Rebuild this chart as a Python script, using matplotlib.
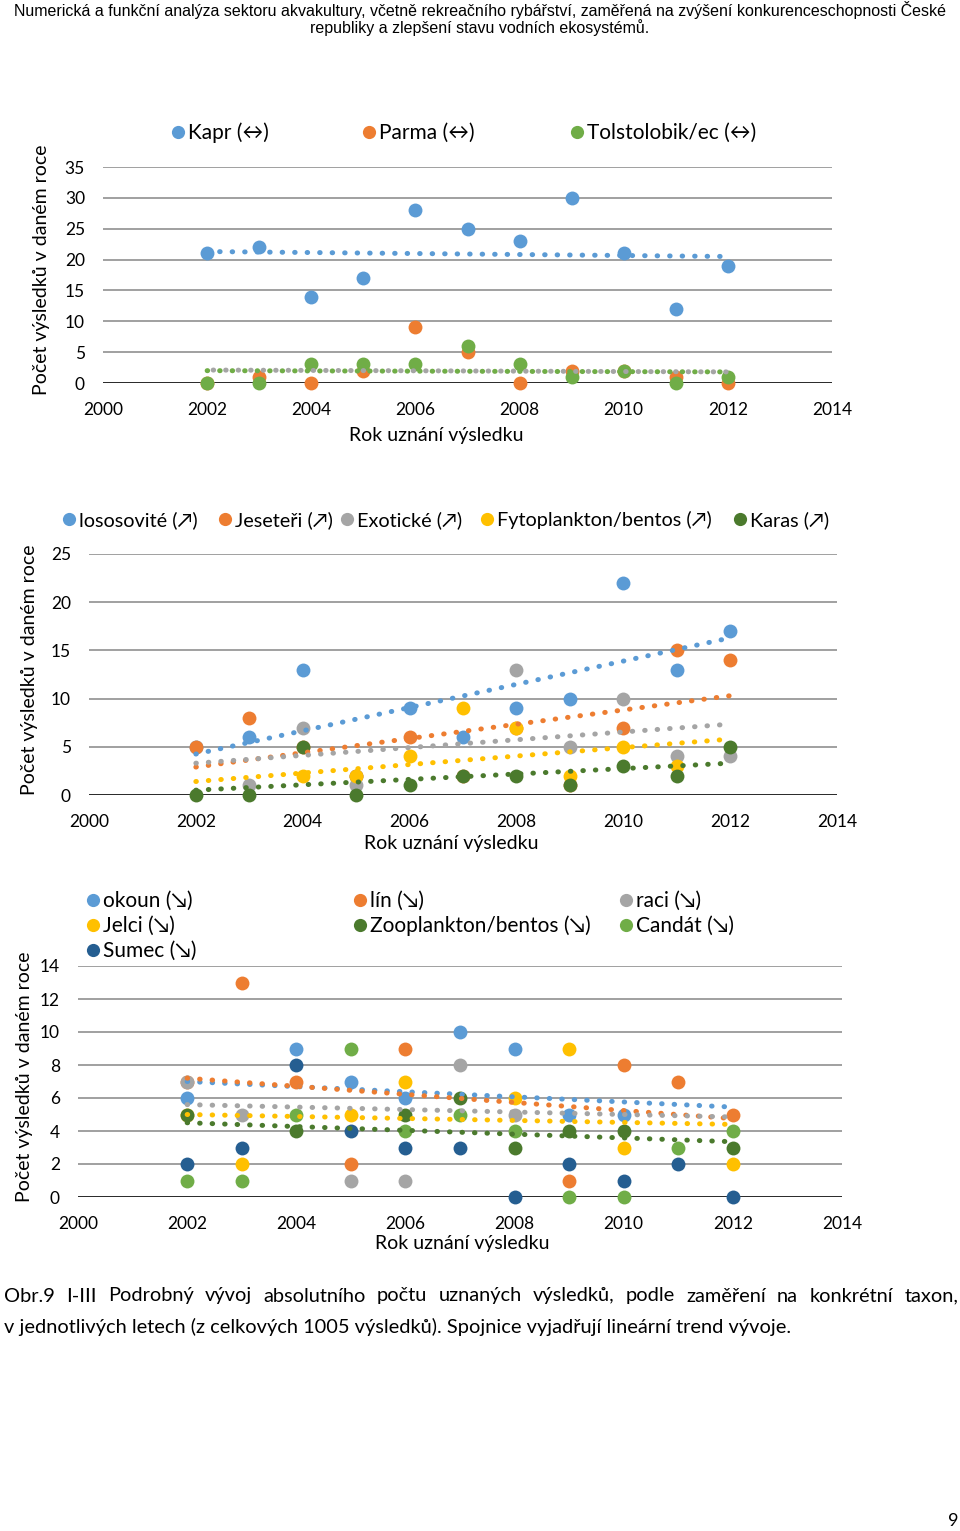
import numpy as np
import matplotlib
matplotlib.use("Agg")
import matplotlib.pyplot as plt
from matplotlib.lines import Line2D

plt.rcParams['font.family'] = ['Lato', 'DejaVu Sans']

nan = np.nan
years = [2002, 2003, 2004, 2005, 2006, 2007, 2008, 2009, 2010, 2011, 2012]
trend_years = [2002, 2012]

# I - stable taxa
kapr = [21, 22, 14, 17, 28, 25, 23, 30, 21, 12, 19]
parma = [0, 1, 0, 2, 9, 5, 0, 2, 2, 1, 0]
tolstolobik = [0, 0, 3, 3, 3, 6, 3, 1, 2, 0, 1]
trend_kapr = [21.3, 20.5]
trend_parma = [2.1, 1.8]
trend_tolstolobik = [2.0, 1.8]

# II - rising taxa
lososovite = [5, 6, 13, 2, 9, 6, 9, 10, 22, 13, 17]
jeseteri = [5, 8, 5, 2, 6, 2, 7, 1, 7, 15, 14]
exoticke = [nan, 1, 7, 1, nan, nan, 13, 5, 10, 4, 4]
fytoplankton = [nan, nan, 2, 2, 4, 9, 7, 2, 5, 3, nan]
karas = [0, 0, 5, 0, 1, 2, 2, 1, 3, 2, 5]
trend_lososovite = [4.25, 16.3]
trend_jeseteri = [2.9, 10.3]
trend_exoticke = [3.3, 7.35]
trend_fytoplankton = [1.4, 5.8]
trend_karas = [0.5, 3.3]

# III - declining taxa
okoun = [6, nan, 9, 7, 6, 10, 9, 5, 5, nan, nan]
lin = [7, 13, 7, 2, 9, nan, nan, 1, 8, 7, 5]
raci = [7, 5, nan, 1, 1, 8, 5, nan, nan, nan, nan]
jelci = [5, 2, nan, 5, 7, nan, 6, 9, 3, nan, 2]
zooplankton = [5, nan, 4, nan, 5, 6, 3, 4, 4, nan, 3]
candat = [1, 1, 5, 9, 4, 5, 4, 0, 0, 3, 4]
sumec = [2, 3, 8, 4, 3, 3, 0, 2, 1, 2, 0]
trend_okoun = [7.0, 5.45]
trend_lin = [7.2, 4.75]
trend_raci = [5.6, 4.85]
trend_jelci = [5.0, 4.4]
trend_zooplankton = [4.5, 3.35]

BLUE = '#5B9BD5'
ORANGE = '#ED7D31'
GRAY = '#A5A5A5'
YELLOW = '#FFC000'
GREEN = '#70AD47'
DKGREEN = '#4B7A2D'
DKBLUE = '#255E91'

W, H = 960, 1531
fig = plt.figure(figsize=(W / 100, H / 100), dpi=100)


def px(x, y):
    return x / W, 1 - y / H


def make_axes(left, right, top, bottom, ymax, ystep, xlabel_y, xlabel_x, ylabel_x):
    l, t = px(left, top)
    r, b = px(right, bottom)
    ax = fig.add_axes([l, b, r - l, t - b])
    ax.set_xlim(2000, 2014)
    ax.set_ylim(0, ymax)
    ax.set_xticks(range(2000, 2015, 2))
    ax.set_yticks(np.arange(0, ymax + 0.1, ystep))
    for s in ax.spines.values():
        s.set_visible(False)
    for yv in np.arange(ystep, ymax + 0.1, ystep):
        ax.axhline(yv, color='#A0A0A0', lw=1.4, zorder=0)
    ax.axhline(0, color='black', lw=1.9, zorder=1)
    ax.tick_params(length=0, labelsize=12.5, colors='black')
    ax.tick_params(axis='y', pad=13)
    ax.tick_params(axis='x', pad=14)
    fig.text(*px(xlabel_x, xlabel_y), 'Rok uznání výsledku', ha='center', va='center', fontsize=14)
    fig.text(*px(ylabel_x, (top + bottom) / 2 - 5), 'Počet výsledků v daném roce', ha='center', va='center',
             rotation=90, fontsize=14)
    return ax


def points(ax, vals, color, z):
    ax.scatter(years, vals, s=100, color=color, zorder=z, clip_on=False, linewidths=0)


def trend(ax, vals, color, offset=0):
    ax.plot(trend_years, vals, color=color, lw=3.6, linestyle=(offset, (0.1, 2.4)),
            dash_capstyle='round', zorder=10)


def legend_items(items, size=15):
    for x, y, color, label in items:
        fig.add_artist(Line2D([x / W], [1 - y / H], marker='o', markersize=9.5, color=color,
                              markeredgewidth=0, transform=fig.transFigure))
        fig.text(*px(x + 10, y + 1), label, ha='left', va='center', fontsize=size)


# header
hdr_font = ['Liberation Sans Narrow', 'Liberation Sans', 'DejaVu Sans']
fig.text(0.5, 1 - 10 / H, 'Numerická a funkční analýza sektoru akvakultury, včetně rekreačního rybářství, '
         'zaměřená na zvýšení konkurenceschopnosti České', ha='center', va='center', fontsize=11.5,
         family=hdr_font)
fig.text(0.5, 1 - 28 / H, 'republiky a zlepšení stavu vodních ekosystémů.', ha='center', va='center',
         fontsize=11.5, family=hdr_font)

# panel I
ax1 = make_axes(103, 832, 167, 383, 35, 5, 436, 436, 42)
points(ax1, kapr, BLUE, 3)
points(ax1, parma, ORANGE, 4)
points(ax1, tolstolobik, GREEN, 5)
trend(ax1, trend_kapr, BLUE)
trend(ax1, trend_tolstolobik, GREEN)
trend(ax1, trend_parma, GRAY, offset=1.3)
legend_items([(178, 132, BLUE, 'Kapr (↔)'), (369, 132, ORANGE, 'Parma (↔)'),
              (577, 132, GREEN, 'Tolstolobik/ec (↔)')])

# panel II
ax2 = make_axes(89, 837, 554, 795, 25, 5, 843, 451, 30)
for i, (vals, col) in enumerate([(lososovite, BLUE), (jeseteri, ORANGE), (exoticke, GRAY),
                                 (fytoplankton, YELLOW), (karas, DKGREEN)]):
    points(ax2, vals, col, 3 + i)
trend(ax2, trend_lososovite, BLUE)
trend(ax2, trend_jeseteri, ORANGE)
trend(ax2, trend_exoticke, GRAY)
trend(ax2, trend_fytoplankton, YELLOW)
trend(ax2, trend_karas, DKGREEN)
legend_items([(69, 519, BLUE, 'lososovité (↗)'), (225, 519, ORANGE, 'Jeseteři (↗)'),
              (347, 519, GRAY, 'Exotické (↗)'), (487, 519, YELLOW, 'Fytoplankton/bentos (↗)'),
              (740, 519, DKGREEN, 'Karas (↗)')], size=14.3)

# panel III
ax3 = make_axes(78, 842, 966, 1197, 14, 2, 1243, 462, 25)
for i, (vals, col) in enumerate([(okoun, BLUE), (lin, ORANGE), (raci, GRAY), (jelci, YELLOW),
                                 (zooplankton, DKGREEN), (candat, GREEN), (sumec, DKBLUE)]):
    points(ax3, vals, col, 3 + i)
trend(ax3, trend_okoun, BLUE)
trend(ax3, trend_lin, ORANGE)
trend(ax3, trend_raci, GRAY)
trend(ax3, trend_jelci, YELLOW)
trend(ax3, trend_zooplankton, DKGREEN)
legend_items([(93, 900, BLUE, 'okoun (↘)'), (360, 900, ORANGE, 'lín (↘)'), (626, 900, GRAY, 'raci (↘)'),
              (93, 925, YELLOW, 'Jelci (↘)'), (360, 925, DKGREEN, 'Zooplankton/bentos (↘)'),
              (626, 925, GREEN, 'Candát (↘)'), (93, 950, DKBLUE, 'Sumec (↘)')])

# caption, first line justified
renderer = fig.canvas.get_renderer()
line1 = ('Obr.9 I-III Podrobný vývoj absolutního počtu uznaných výsledků, podle zaměření '
         'na konkrétní taxon,').split()
words = [fig.text(0, 1 - 1296 / H, w, ha='left', va='center', fontsize=14.4) for w in line1]
widths = [t.get_window_extent(renderer).width for t in words]
gap = (954 - sum(widths)) / (len(words) - 1)
x = 4
for t, w in zip(words, widths):
    t.set_x(x / W)
    x += w + gap
fig.text(4 / W, 1 - 1327 / H, 'v jednotlivých letech (z celkových 1005 výsledků). Spojnice vyjadřují '
         'lineární trend vývoje.', ha='left', va='center', fontsize=14.4)

fig.text(*px(953, 1521), '9', ha='center', va='center', fontsize=13)

fig.savefig('out.png', dpi=100)
